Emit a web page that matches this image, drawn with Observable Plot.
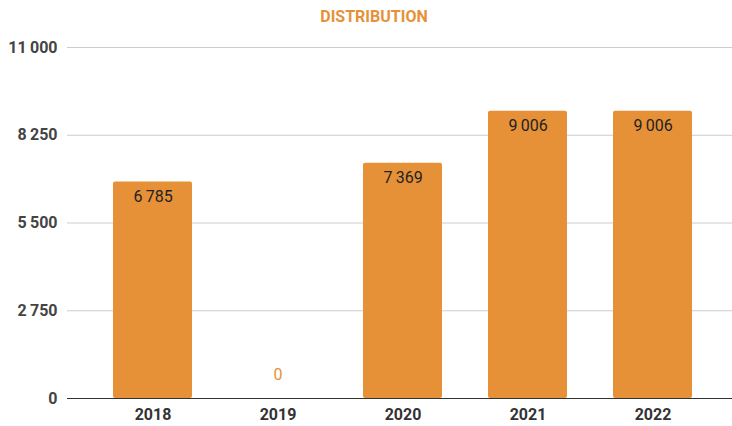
<!DOCTYPE html>
<html>
<head>
<meta charset="utf-8">
<script src="https://cdn.jsdelivr.net/npm/d3@7"></script>
<script src="https://cdn.jsdelivr.net/npm/@observablehq/plot@0.6"></script>
<style>
  html, body { margin: 0; padding: 0; background: #fff; }
  #title { height: 32px; box-sizing: border-box; padding-top: 9px; padding-left: 16px; text-align: center; line-height: 16px;
    font-family: Roboto, sans-serif; font-weight: bold; font-size: 16px; color: #E69138; width: 732px; }
  svg { display: block; }
</style>
</head>
<body>
<div id="title">DISTRIBUTION</div>
<div id="chart"></div>
<script>
const years = ["2018", "2019", "2020", "2021", "2022"];
const values = [6785, 0, 7369, 9006, 9006];
const yTicks = [0, 2750, 5500, 8250, 11000];

const data = years.map((y, i) => ({year: y, value: values[i]}));
const fmt = v => d3.format(",")(v).replace(/,/g, "\u2009");
const orange = "#E69138";

const chart = Plot.plot({
  width: 732,
  height: 394,
  marginTop: 15,
  marginBottom: 28,
  marginLeft: 67,
  marginRight: 0,
  style: {fontFamily: "Roboto, sans-serif", fontSize: "16px", background: "#fff"},
  x: {domain: years, range: [111, 695], paddingInner: 0.365, paddingOuter: 0, label: null},
  y: {domain: [0, 11000], label: null},
  marks: [
    Plot.ruleY(yTicks.filter(d => d > 0), {stroke: "#cccccc", strokeWidth: 1}),
    Plot.barY(data, {x: "year", y: "value", fill: orange, rx: 2}),
    Plot.ruleY([0], {stroke: "#333333", strokeWidth: 1}),
    Plot.text(data.filter(d => d.value > 0), {x: "year", y: "value", text: d => fmt(d.value), dy: 14.5, fill: "#222222", fontSize: 16}),
    Plot.text(data.filter(d => d.value === 0), {x: "year", y: "value", text: d => fmt(d.value), dy: -23.5, fill: orange, fontSize: 16}),
    Plot.axisY({ticks: yTicks, tickFormat: fmt, tickSize: 0, tickPadding: 10, fontWeight: "bold", fill: "#444444", fontSize: 16}),
    Plot.axisX({tickSize: 0, tickPadding: 10, fontWeight: "bold", fill: "#333333", fontSize: 16})
  ]
});
document.getElementById("chart").appendChild(chart);
</script>
</body>
</html>
